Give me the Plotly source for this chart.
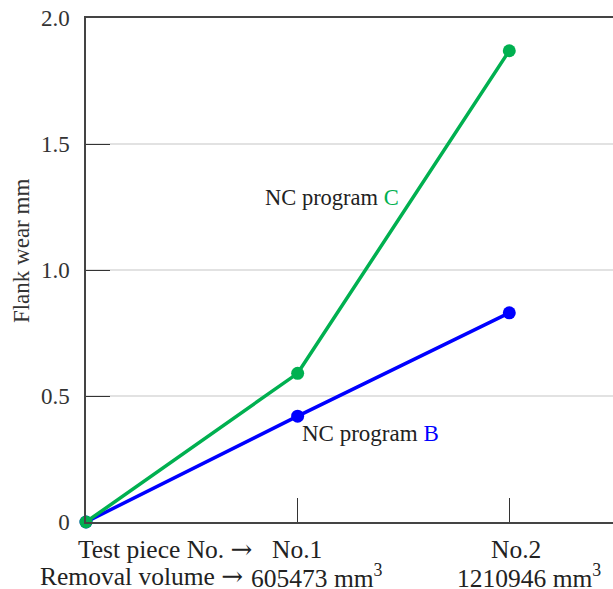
import plotly.graph_objects as go

# Data
test_pieces = [0, 1, 2]
wear_c = [0.0, 0.59, 1.87]
wear_b = [0.0, 0.42, 0.83]
y_tickvals = [0, 0.5, 1.0, 1.5, 2.0]
y_ticktext = ["0", "0.5", "1.0", "1.5", "2.0"]
x_tickvals = [1, 2]
piece_labels = ["No.1", "No.2"]
volume_labels = ["605473 mm<sup>3</sup>", "1210946 mm<sup>3</sup>"]
y_title = "Flank wear mm"

FONT = "Liberation Serif"
GREEN = "#00B050"
BLUE = "#0000FF"
FS = 25.5
ARROW = "<span style='font-family:DejaVu Serif;font-size:26px'>→</span>"

fig = go.Figure()
fig.add_trace(go.Scatter(x=test_pieces, y=wear_b, mode="lines+markers",
                         line=dict(color=BLUE, width=3.5),
                         marker=dict(color=BLUE, size=13),
                         cliponaxis=False, showlegend=False))
fig.add_trace(go.Scatter(x=test_pieces, y=wear_c, mode="lines+markers",
                         line=dict(color=GREEN, width=3.5),
                         marker=dict(color=GREEN, size=13),
                         cliponaxis=False, showlegend=False))

fig.update_layout(
    width=613, height=589,
    margin=dict(l=86, r=0, t=18, b=67),
    plot_bgcolor="white", paper_bgcolor="white",
    font=dict(family=FONT, size=FS, color="#222"),
    showlegend=False,
    xaxis=dict(range=[0, 2.49], tickvals=x_tickvals, ticktext=["", ""],
               ticks="inside", ticklen=24, tickcolor="#333", tickwidth=1.3,
               showgrid=False, zeroline=False, showline=True,
               linecolor="#444", linewidth=2, mirror=True),
    yaxis=dict(range=[0, 2.0], tickvals=y_tickvals, ticktext=y_ticktext,
               ticks="inside", ticklen=24, tickcolor="#333", tickwidth=1.3,
               showgrid=True, gridcolor="#e2e2e2", gridwidth=1.5,
               zeroline=False, showline=True, linecolor="#444", linewidth=1.5,
               ticklabelstandoff=10,
               tickfont=dict(family=FONT, size=23, color="#333")),
)

ann = []
ann.append(dict(x=-0.121, y=0.538, xref="paper", yref="paper", showarrow=False,
                text=y_title, textangle=-90, xanchor="center", yanchor="middle",
                font=dict(family=FONT, size=23, color="#333")))
ann.append(dict(x=1.164, y=1.286, xref="x", yref="y", showarrow=False,
                text="NC program <span style='color:%s'>C</span>" % GREEN,
                font=dict(family=FONT, size=22.5, color="#222"), xanchor="center", yanchor="middle"))
ann.append(dict(x=1.01, y=0.35, xref="x", yref="y", showarrow=False,
                text="NC program <span style='color:%s'>B</span>" % BLUE,
                font=dict(family=FONT, size=23, color="#222"), xanchor="left", yanchor="middle"))
piece_shift = [-1, 7]
vol_shift = [19, 20]
for xv, pl, vl, ps, vs in zip(x_tickvals, piece_labels, volume_labels, piece_shift, vol_shift):
    ann.append(dict(x=xv, y=0, xref="x", yref="paper", yshift=-27, xshift=ps, showarrow=False,
                    text=pl, xanchor="center", yanchor="middle",
                    font=dict(family=FONT, size=FS, color="#222")))
    ann.append(dict(x=xv, y=0, xref="x", yref="paper", yshift=-54, xshift=vs, showarrow=False,
                    text=vl, xanchor="center", yanchor="middle",
                    font=dict(family=FONT, size=FS, color="#222")))
ann.append(dict(x=0.794, y=0, xref="x", yref="paper", yshift=-27, showarrow=False,
                text="Test piece No. " + ARROW, xanchor="right", yanchor="middle",
                font=dict(family=FONT, size=FS, color="#222")))
ann.append(dict(x=0.752, y=0, xref="x", yref="paper", yshift=-54, showarrow=False,
                text="Removal volume " + ARROW, xanchor="right", yanchor="middle",
                font=dict(family=FONT, size=FS, color="#222")))
fig.update_layout(annotations=ann)

fig.write_html("out.html")
